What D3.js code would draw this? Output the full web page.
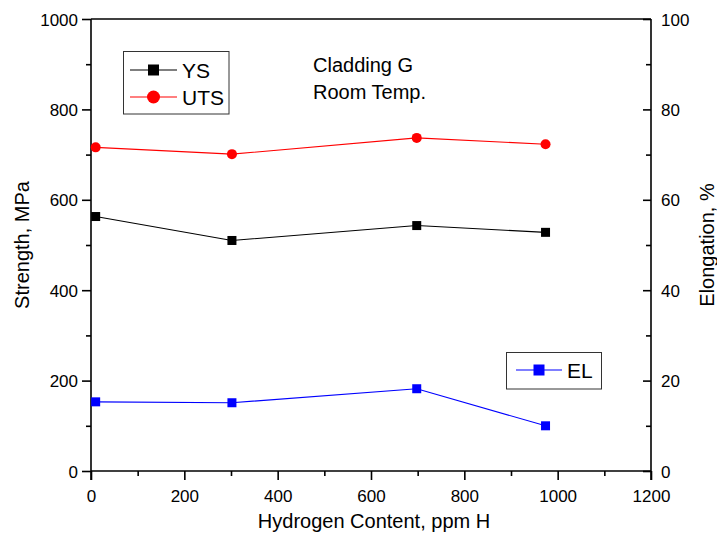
<!DOCTYPE html>
<html><head><meta charset="utf-8">
<script src="https://cdn.jsdelivr.net/npm/d3@7"></script>
<style>body{margin:0;background:#fff}svg{display:block}text{font-family:"Liberation Sans",Arial,sans-serif}</style>
</head><body><svg id="c" width="717" height="535"></svg>
<script>
const hydrogen = [10, 302, 698, 974];
const ys = [563, 510, 543, 528];
const uts = [716, 701, 737, 723];
const el = [15.3, 15.1, 18.2, 10.0];
const xTicks = [0, 200, 400, 600, 800, 1000, 1200];
const yLeftTicks = [0, 200, 400, 600, 800, 1000];
const yRightTicks = [0, 20, 40, 60, 80, 100];

const svg = d3.select("#c");
const L = 91, R = 651, T = 19, B = 471;
const x = d3.scaleLinear().domain([0, 1200]).range([L, R]);
const yL = d3.scaleLinear().domain([0, 1000]).range([B, T]);
const yR = d3.scaleLinear().domain([0, 100]).range([B, T]);
const fs = 17;

// frame top
svg.append("line").attr("x1", L).attr("x2", R).attr("y1", T).attr("y2", T).attr("stroke", "#000").attr("stroke-width", 1.6);

// x axis
const gx = svg.append("g").attr("transform", `translate(0,${B})`);
gx.call(d3.axisBottom(x).tickValues(d3.range(0, 1201, 100)).tickSize(5).tickFormat(""));
gx.call(g => g.selectAll(".tick line").filter(d => d % 200 === 0).attr("y2", 9));
gx.selectAll(".tick").filter(d => d % 200 === 0).append("text")
  .attr("y", 31).attr("text-anchor", "middle").attr("fill", "#000").attr("font-size", fs).text(d => d);
gx.select(".domain").attr("stroke-width", 1.6).attr("d", `M${L},0H${R}`);
gx.selectAll(".tick line").attr("stroke-width", 1.6);

// left axis
const gl = svg.append("g").attr("transform", `translate(${L},0)`);
gl.call(d3.axisLeft(yL).tickValues(d3.range(0, 1001, 100)).tickSize(5).tickFormat(""));
gl.selectAll(".tick line").filter(d => d % 200 === 0).attr("x2", -9);
gl.selectAll(".tick").filter(d => d % 200 === 0).append("text")
  .attr("x", -13).attr("dy", "0.36em").attr("text-anchor", "end").attr("fill", "#000").attr("font-size", fs).text(d => d);
gl.select(".domain").attr("stroke-width", 1.6).attr("d", `M0,${T}V${B + 9}`);
gl.selectAll(".tick line").attr("stroke-width", 1.6);

// right axis (ticks inward)
const gr = svg.append("g").attr("transform", `translate(${R},0)`);
gr.call(d3.axisRight(yR).tickValues(d3.range(0, 101, 10)).tickSize(-5).tickFormat(""));
gr.selectAll(".tick line").filter(d => d % 20 === 0).attr("x2", -8);
gr.selectAll(".tick").filter(d => d % 20 === 0).append("text")
  .attr("x", 10).attr("dy", "0.36em").attr("text-anchor", "start").attr("fill", "#000").attr("font-size", fs).text(d => d);
gr.select(".domain").attr("stroke-width", 1.6).attr("d", `M0,${T}V${B + 9}`);
gr.selectAll(".tick line").attr("stroke-width", 1.6);

// axis titles
svg.append("text").attr("x", (L + R) / 2 + 3).attr("y", 528).attr("text-anchor", "middle").attr("font-size", 20).text("Hydrogen Content, ppm H");
svg.append("text").attr("transform", `translate(29,${(T + B) / 2}) rotate(-90)`).attr("text-anchor", "middle").attr("font-size", 20).text("Strength, MPa");
svg.append("text").attr("transform", `translate(714,${(T + B) / 2}) rotate(-90)`).attr("text-anchor", "middle").attr("font-size", 20).text("Elongation, %");

// series
function series(vals, yScale, color, shape) {
  const pts = hydrogen.map((h, i) => [x(h), yScale(vals[i])]);
  svg.append("path").attr("d", d3.line()(pts)).attr("fill", "none").attr("stroke", color).attr("stroke-width", 1.1);
  pts.forEach(p => {
    if (shape === "square") svg.append("rect").attr("x", p[0] - 4.5).attr("y", p[1] - 4.5).attr("width", 9).attr("height", 9).attr("fill", color);
    else svg.append("circle").attr("cx", p[0]).attr("cy", p[1]).attr("r", 5).attr("fill", color);
  });
}
series(ys, yL, "#000", "square");
series(uts, yL, "#ff0000", "circle");
series(el, yR, "#0000ff", "square");

// legends
function legendItem(x0, x1, cy, color, shape, label) {
  svg.append("line").attr("x1", x0).attr("x2", x1).attr("y1", cy).attr("y2", cy).attr("stroke", color).attr("stroke-width", 1.1);
  const cx = (x0 + x1) / 2;
  if (shape === "square") svg.append("rect").attr("x", cx - 5.5).attr("y", cy - 5.5).attr("width", 11).attr("height", 11).attr("fill", color);
  else svg.append("circle").attr("cx", cx).attr("cy", cy).attr("r", 6.5).attr("fill", color);
  svg.append("text").attr("x", x1 + 5).attr("y", cy).attr("dy", "0.36em").attr("font-size", 21).text(label);
}
svg.append("rect").attr("x", 123.5).attr("y", 51.5).attr("width", 105.5).attr("height", 62.5).attr("fill", "none").attr("stroke", "#333").attr("stroke-width", 1);
legendItem(130, 177, 70, "#000", "square", "YS");
legendItem(130, 177, 97, "#ff0000", "circle", "UTS");
svg.append("rect").attr("x", 506.5).attr("y", 352.5).attr("width", 95).attr("height", 36.5).attr("fill", "none").attr("stroke", "#333").attr("stroke-width", 1);
legendItem(516, 562, 370, "#0000ff", "square", "EL");

// annotation
svg.append("text").attr("x", 313).attr("y", 72).attr("font-size", 20).text("Cladding G");
svg.append("text").attr("x", 313).attr("y", 98.5).attr("font-size", 20).text("Room Temp.");
</script></body></html>
